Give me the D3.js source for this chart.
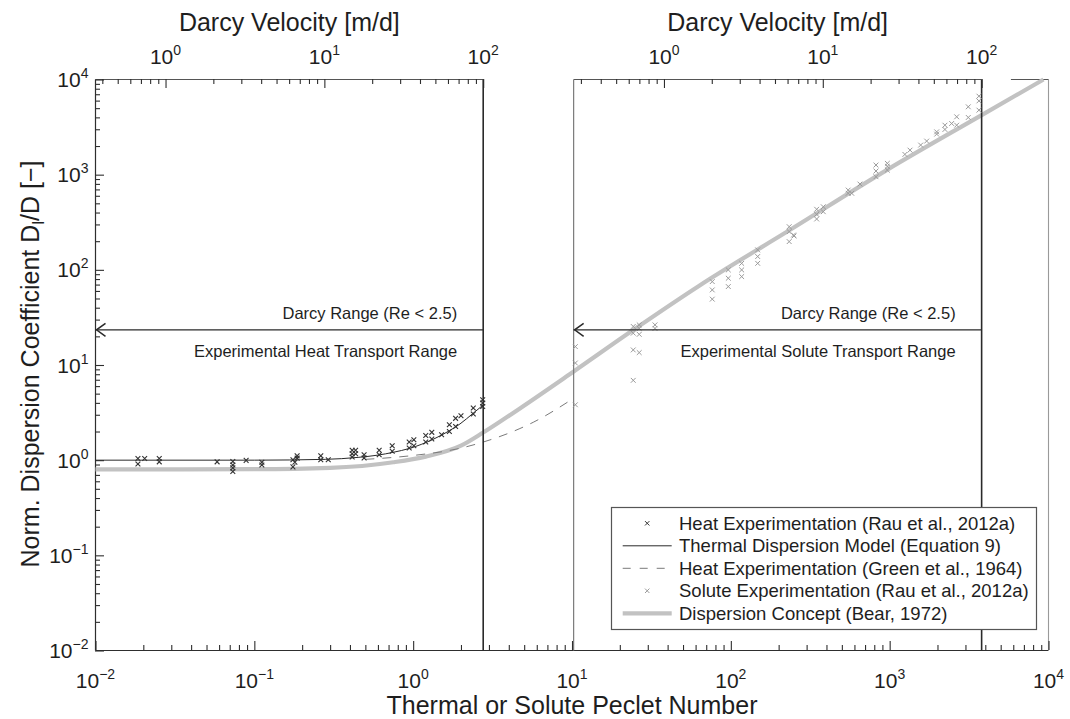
<!DOCTYPE html>
<html><head><meta charset="utf-8">
<script src="https://cdn.jsdelivr.net/npm/d3@7"></script>
<style>
html,body{margin:0;padding:0;background:#fff;}
svg{display:block;font-family:"Liberation Sans",Arial,Helvetica,sans-serif;}
</style></head><body>
<svg id="chart" width="1070" height="719"></svg>
<script>
// ---- Data -------------------------------------------------------------
// Dispersion concept (Bear, 1972): Peclet number vs. normalised dispersion
const bearPe = [0.01, 0.1, 0.3, 0.75, 1.2, 2.0, 2.76, 4.7, 10.2, 24, 64, 235, 957, 3793, 9300];
const bearD  = [0.80, 0.805, 0.83, 0.95, 1.09, 1.42, 1.95, 3.5, 8.5, 23, 69, 262, 1117, 4220, 10000];

// Thermal dispersion model (Equation 9)
const modelPe = [0.01, 0.1, 0.28, 0.45, 0.6, 0.75, 0.95, 1.33, 1.7, 1.97, 2.38, 2.76];
const modelD  = [1.0, 1.0, 1.02, 1.07, 1.13, 1.21, 1.33, 1.65, 2.05, 2.4, 3.1, 3.8];

// Heat experimentation (Green et al., 1964)
const greenPe = [0.5, 1.0, 2.0, 2.76, 4.7, 5.7, 10.3];
const greenD  = [1.02, 1.12, 1.34, 1.55, 2.15, 2.5, 4.5];

// Heat experimentation (Rau et al., 2012a)
const heatPe = [0.0185, 0.0185, 0.0204, 0.0252, 0.0252, 0.0583, 0.0732, 0.0732, 0.0732, 0.0732,
  0.0888, 0.1115, 0.1115, 0.175, 0.18, 0.175, 0.186, 0.186, 0.262, 0.262, 0.292,
  0.413, 0.413, 0.413, 0.434, 0.434, 0.491, 0.491, 0.611, 0.611, 0.738, 0.738,
  0.944, 0.944, 1.01, 1.01, 1.2, 1.2, 1.31, 1.31, 1.51, 1.69, 1.69, 1.85, 1.85,
  2.0, 2.39, 2.39, 2.74, 2.74, 2.74];
const heatD = [1.04, 0.91, 1.04, 1.04, 0.96, 0.96, 0.97, 0.89, 0.83, 0.76,
  0.995, 0.95, 0.89, 1.01, 0.95, 0.85, 1.11, 1.05, 1.11, 1.01, 1.01,
  1.27, 1.17, 1.08, 1.27, 1.17, 1.14, 1.055, 1.27, 1.14, 1.42, 1.24,
  1.55, 1.34, 1.64, 1.42, 1.82, 1.55, 1.96, 1.67, 1.85, 2.36, 2.0, 2.75, 2.26,
  2.93, 3.53, 3.05, 4.32, 3.98, 3.67];

// Solute experimentation (Rau et al., 2012a)
const solutePe = [10.5, 10.5, 10.5, 24.3, 24.3, 24.3, 24.3, 26.5, 26.5, 26.5, 26.5, 33.3, 33.3,
  76.4, 76.4, 76.4, 96.4, 96.4, 96.4, 117, 117, 117, 147.6, 147.6, 147.6,
  233, 233, 248, 250, 233, 347, 347, 347, 382, 382, 548, 548, 577, 650,
  820, 820, 820, 967, 967, 967, 1247, 1343, 1567, 1710, 1977, 1977,
  2228, 2228, 2455, 2642, 2642, 3126, 3126, 3648, 3648, 3648];
const soluteD = [15.6, 10.5, 3.82, 25.4, 21.6, 14.4, 6.9, 26.4, 24.2, 21.0, 13.5, 26.4, 24.2,
  75.2, 61.5, 49.2, 99.8, 81.6, 66.7, 117, 99.8, 84.9, 162, 138, 117,
  284, 252, 232, 227, 198, 433, 383, 342, 460, 408, 689, 637, 637, 797,
  1262, 1091, 951, 1315, 1226, 1117, 1633, 1811, 2046, 2254, 2818, 2667,
  3311, 2985, 3450, 4055, 3311, 5164, 3990, 6683, 5957, 4764];

// Range limits (Peclet number) and arrow level
const peHeatMax = 2.76;      // upper end of heat transport range (Darcy limit)
const peSoluteMin = 10.24;   // lower end of solute transport range
const peSoluteMax = 3793;    // upper end of solute transport range (Darcy limit)
const arrowLevel = 23.4;

// Axis ticks
const decadeTicks = [1e-2, 1e-1, 1e0, 1e1, 1e2, 1e3, 1e4];
const decadeExps  = [-2, -1, 0, 1, 2, 3, 4];
const darcyTicks  = [1, 10, 100];
const darcyExps   = [0, 1, 2];

const legendLabels = [
  "Heat Experimentation (Rau et al., 2012a)",
  "Thermal Dispersion Model (Equation 9)",
  "Heat Experimentation (Green et al., 1964)",
  "Solute Experimentation (Rau et al., 2012a)",
  "Dispersion Concept (Bear, 1972)"
];

// ---- Layout -----------------------------------------------------------
const svg = d3.select("#chart");
const L = 95.5, R = 1048.5, T = 79.5, B = 650.5;

const x = d3.scaleLog().domain([1e-2, 1e4]).range([L, R]);
const y = d3.scaleLog().domain([1e-2, 1e4]).range([B, T]);

// Darcy velocity axes: q = 100 m/d at the Darcy limit of each range
const qL = d3.scaleLog().domain([1e-2 * 100 / peHeatMax, 100]).range([x(1e-2), x(peHeatMax)]);
const qR = d3.scaleLog().domain([peSoluteMin * 100 / peSoluteMax, 100]).range([x(peSoluteMin), x(peSoluteMax)]);

const INK = "#1e1e1e";
const AX = "#2e2e2e";

function powLabel(sel, exp, supSize, supDy) {
  sel.append("tspan").text("10");
  sel.append("tspan").attr("dy", supDy).attr("font-size", supSize)
    .text(exp < 0 ? "\u2212" + (-exp) : String(exp));
}
const isMajor = list => d => list.some(m => Math.abs(Math.log10(d) - Math.log10(m)) < 1e-6);

// ---- Frame ------------------------------------------------------------
const frame = svg.append("g").attr("fill", "none");
frame.append("line").attr("x1", L).attr("x2", L).attr("y1", T).attr("y2", B)
  .attr("stroke", AX).attr("stroke-width", 1.2);
frame.append("line").attr("x1", L).attr("x2", R).attr("y1", B).attr("y2", B)
  .attr("stroke", AX).attr("stroke-width", 1.2);
frame.append("line").attr("x1", R).attr("x2", R).attr("y1", T).attr("y2", B)
  .attr("stroke", "#9a9a9a").attr("stroke-width", 1.1);
// top edges of the two Darcy-velocity axes and the main box
[[x(1e-2), x(peHeatMax)], [x(peSoluteMin), x(peSoluteMax)], [x(5800), R]].forEach(s => {
  frame.append("line").attr("x1", s[0]).attr("x2", s[1]).attr("y1", T).attr("y2", T)
    .attr("stroke", "#555").attr("stroke-width", 1.1);
});

// ---- Ticks (inward, major + minor) -----------------------------------
function tickAxis(axisFn, scale, majors, transform) {
  const all = scale.ticks();
  const maj = all.filter(isMajor(majors));
  const min = all.filter(d => !isMajor(majors)(d));
  [[min, 5], [maj, 9]].forEach(([vals, len]) => {
    svg.append("g").attr("transform", transform)
      .call(axisFn(scale).tickValues(vals).tickSizeInner(-len).tickSizeOuter(0).tickFormat(""))
      .call(g => g.select(".domain").remove())
      .call(g => g.selectAll(".tick line").attr("stroke", AX).attr("stroke-width", 1.1));
  });
}
tickAxis(d3.axisBottom, x, decadeTicks, `translate(0,${B - 0.5})`);
tickAxis(d3.axisLeft, y, decadeTicks, `translate(${L - 0.5},0)`);
tickAxis(d3.axisTop, qL, darcyTicks, `translate(0,${T - 0.5})`);
tickAxis(d3.axisTop, qR, darcyTicks, `translate(0,${T - 0.5})`);

// ---- Tick labels ------------------------------------------------------
const lab = svg.append("g").attr("fill", INK).attr("font-size", 21);
decadeTicks.forEach((v, i) => {
  const t = lab.append("text").attr("x", x(v)).attr("y", 688).attr("text-anchor", "middle");
  powLabel(t, decadeExps[i], 14, -9);
  const u = lab.append("text").attr("x", 88.5).attr("y", y(v) + 7.5).attr("text-anchor", "end");
  powLabel(u, decadeExps[i], 14, -9);
});
[qL, qR].forEach(q => {
  darcyTicks.forEach((v, i) => {
    const t = lab.append("text").attr("x", q(v)).attr("y", 64).attr("text-anchor", "middle");
    powLabel(t, darcyExps[i], 14, -9);
  });
});

// ---- Axis titles ------------------------------------------------------
const titles = svg.append("g").attr("fill", INK).attr("font-size", 25).attr("text-anchor", "middle");
titles.append("text").attr("x", (L + R) / 2).attr("y", 714).text("Thermal or Solute Peclet Number");
titles.append("text").attr("x", (x(1e-2) + x(peHeatMax)) / 2).attr("y", 31).text("Darcy Velocity [m/d]");
titles.append("text").attr("x", (x(peSoluteMin) + x(peSoluteMax)) / 2).attr("y", 31).text("Darcy Velocity [m/d]");
const yt = titles.append("text").attr("transform", "translate(38.5,364) rotate(-90)");
yt.append("tspan").text("Norm. Dispersion Coefficient D");
yt.append("tspan").attr("font-size", 17).attr("dy", 5).text("l");
yt.append("tspan").attr("dy", -5).text("/D [\u2212]");

// ---- Curves -----------------------------------------------------------
const line = d3.line().curve(d3.curveMonotoneX).x(d => x(d[0])).y(d => y(d[1]));
const zip = (a, b) => a.map((v, i) => [v, b[i]]);

svg.append("path").datum(zip(bearPe, bearD)).attr("d", line)
  .attr("fill", "none").attr("stroke", "#c2c2c2").attr("stroke-width", 4.2);
svg.append("path").datum(zip(greenPe, greenD)).attr("d", line)
  .attr("fill", "none").attr("stroke", "#7a7a7a").attr("stroke-width", 1)
  .attr("stroke-dasharray", "9,8");
svg.append("path").datum(zip(modelPe, modelD)).attr("d", line)
  .attr("fill", "none").attr("stroke", "#2a2a2a").attr("stroke-width", 1);

// ---- Range limits -----------------------------------------------------
svg.append("line").attr("x1", x(peHeatMax)).attr("x2", x(peHeatMax)).attr("y1", T).attr("y2", B)
  .attr("stroke", "#2a2a2a").attr("stroke-width", 1.6);
svg.append("line").attr("x1", x(peSoluteMax)).attr("x2", x(peSoluteMax)).attr("y1", T).attr("y2", B)
  .attr("stroke", "#2a2a2a").attr("stroke-width", 1.6);
svg.append("line").attr("x1", x(peSoluteMin)).attr("x2", x(peSoluteMin)).attr("y1", T).attr("y2", B)
  .attr("stroke", "#7a7a7a").attr("stroke-width", 1.2);

// ---- Markers ----------------------------------------------------------
const cross = s => `M${-s},${-s}L${s},${s}M${-s},${s}L${s},${-s}`;
svg.append("g").selectAll("path").data(zip(solutePe, soluteD)).join("path")
  .attr("transform", d => `translate(${x(d[0])},${y(d[1])})`)
  .attr("d", cross(2.4)).attr("stroke", "#9a9a9a").attr("stroke-width", 1).attr("fill", "none");
svg.append("g").selectAll("path").data(zip(heatPe, heatD)).join("path")
  .attr("transform", d => `translate(${x(d[0])},${y(d[1])})`)
  .attr("d", cross(2.4)).attr("stroke", "#333").attr("stroke-width", 1.1).attr("fill", "none");

// ---- Range arrows -----------------------------------------------------
const ranges = [
  { lo: 1e-2, hi: peHeatMax, name: "Experimental Heat Transport Range" },
  { lo: peSoluteMin, hi: peSoluteMax, name: "Experimental Solute Transport Range" }
];
const ay = y(arrowLevel);
ranges.forEach(r => {
  const g = svg.append("g");
  g.append("line").attr("x1", x(r.lo)).attr("x2", x(r.hi)).attr("y1", ay).attr("y2", ay)
    .attr("stroke", "#2a2a2a").attr("stroke-width", 1.4);
  g.append("path").attr("d", `M${x(r.lo) + 10},${ay - 6.5}L${x(r.lo) + 1},${ay}L${x(r.lo) + 10},${ay + 6.5}`)
    .attr("fill", "none").attr("stroke", "#2a2a2a").attr("stroke-width", 1.5);
  g.append("text").attr("x", x(r.hi) - 26).attr("y", ay - 11).attr("text-anchor", "end")
    .attr("font-size", 16.5).attr("fill", INK).text("Darcy Range (Re < 2.5)");
  g.append("text").attr("x", x(r.hi) - 26).attr("y", ay + 27).attr("text-anchor", "end")
    .attr("font-size", 16.5).attr("fill", INK).text(r.name);
});

// ---- Legend -----------------------------------------------------------
const lg = svg.append("g");
lg.append("rect").attr("x", 611.5).attr("y", 507.5).attr("width", 425).attr("height", 122)
  .attr("fill", "#fff").attr("stroke", "#555").attr("stroke-width", 1.2);
const rowY = i => 523.3 + i * 22.5;
const sx0 = 622.7, sx1 = 671.7;
lg.append("path").attr("transform", `translate(${(sx0 + sx1) / 2},${rowY(0)})`)
  .attr("d", cross(2.2)).attr("stroke", "#333").attr("fill", "none");
lg.append("line").attr("x1", sx0).attr("x2", sx1).attr("y1", rowY(1)).attr("y2", rowY(1))
  .attr("stroke", "#2a2a2a").attr("stroke-width", 1);
lg.append("line").attr("x1", sx0).attr("x2", sx1).attr("y1", rowY(2)).attr("y2", rowY(2))
  .attr("stroke", "#7a7a7a").attr("stroke-width", 1).attr("stroke-dasharray", "8,9");
lg.append("path").attr("transform", `translate(${(sx0 + sx1) / 2},${rowY(3)})`)
  .attr("d", cross(2.2)).attr("stroke", "#9a9a9a").attr("fill", "none");
lg.append("line").attr("x1", sx0).attr("x2", sx1).attr("y1", rowY(4)).attr("y2", rowY(4))
  .attr("stroke", "#c2c2c2").attr("stroke-width", 4.2);
legendLabels.forEach((t, i) => {
  lg.append("text").attr("x", 679).attr("y", rowY(i) + 6.5).attr("font-size", 18.5)
    .attr("fill", INK).text(t);
});
</script>
</body></html>
